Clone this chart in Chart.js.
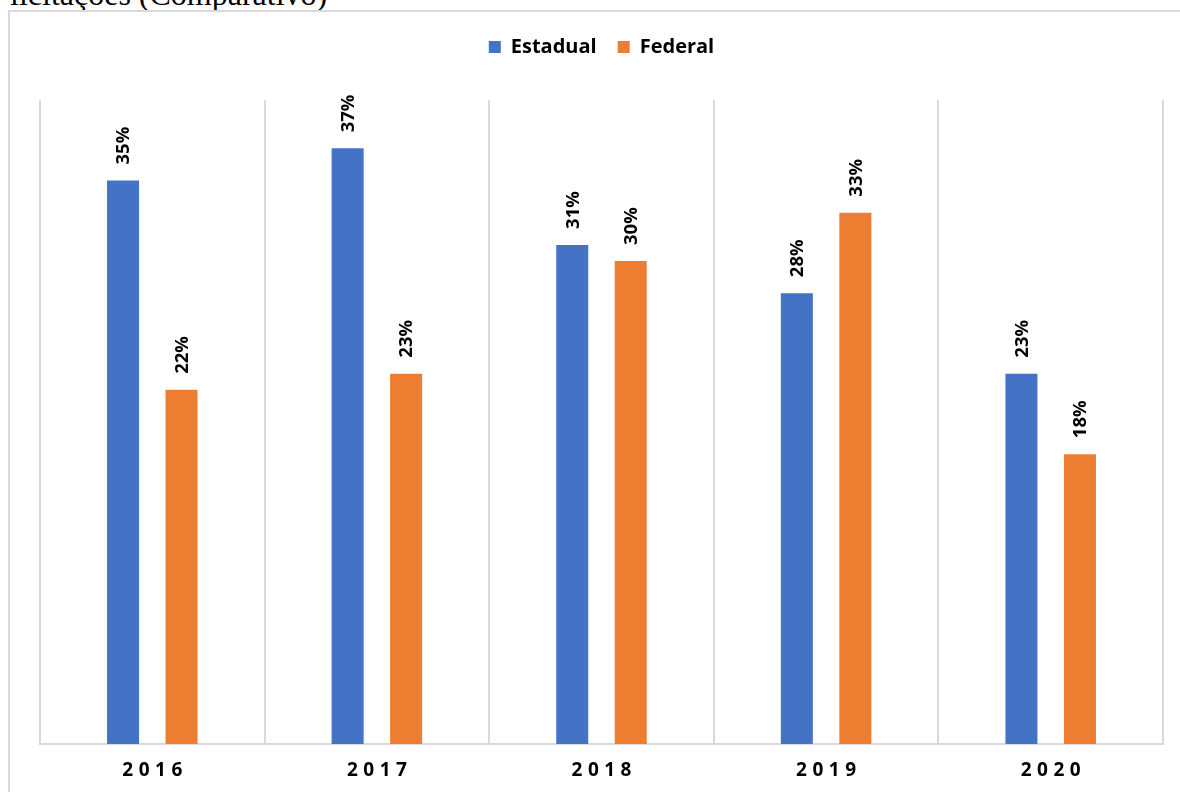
<!DOCTYPE html>
<html>
<head>
<meta charset="utf-8">
<script src="https://cdn.jsdelivr.net/npm/chart.js@4"></script>
<style>
  html, body { margin: 0; padding: 0; background: #fff; overflow: hidden; }
  body { width: 1180px; height: 792px; position: relative; }
  .caption {
    position: absolute; left: 10px; top: -22px;
    font: 32px/32px "Liberation Serif", "Times New Roman", serif;
    color: #000; white-space: nowrap;
  }
  .frame {
    position: absolute; left: 8px; top: 10px; width: 1200px; height: 820px;
    border: 2px solid #d9d9d9; box-sizing: border-box;
  }
  #myChart { position: absolute; left: 0; top: 0; }
</style>
</head>
<body>
<div class="caption">licitações (Comparativo)</div>
<div class="frame"></div>
<canvas id="myChart" width="1180" height="792"></canvas>
<script>
const years = ["2016", "2017", "2018", "2019", "2020"];
const estadual = [35, 37, 31, 28, 23];
const federal = [22, 23, 30, 33, 18];
const yTicks = { min: 0, max: 40 };

const labelFont = '"Open Sans", "DejaVu Sans", sans-serif';

// rotated percentage labels above each bar
const barLabels = {
  id: "barLabels",
  afterDatasetsDraw(chart) {
    const ctx = chart.ctx;
    ctx.save();
    ctx.fillStyle = "#000";
    ctx.font = `bold 18.5px ${labelFont}`;
    ctx.textAlign = "left";
    ctx.textBaseline = "middle";
    chart.data.datasets.forEach((ds, di) => {
      chart.getDatasetMeta(di).data.forEach((bar, i) => {
        ctx.save();
        ctx.translate(bar.x + 1, bar.y - 16);
        ctx.rotate(-Math.PI / 2);
        ctx.fillText(Math.round(ds.data[i]) + "%", 0, 0);
        ctx.restore();
      });
    });
    ctx.restore();
  },
};

// year labels under the axis, spaced out
const yearLabels = {
  id: "yearLabels",
  afterDraw(chart) {
    const ctx = chart.ctx;
    const xScale = chart.scales.x;
    const spacing = 5.5;
    ctx.save();
    ctx.fillStyle = "#000";
    ctx.font = `bold 19px ${labelFont}`;
    ctx.letterSpacing = spacing + "px";
    ctx.textAlign = "center";
    ctx.textBaseline = "middle";
    years.forEach((year, i) => {
      ctx.fillText(year, xScale.getPixelForValue(i) + spacing / 2, 771);
    });
    ctx.restore();
  },
};

const ctx = document.getElementById("myChart").getContext("2d");
new Chart(ctx, {
  type: "bar",
  data: {
    labels: years,
    datasets: [
      {
        label: "Estadual",
        data: estadual,
        backgroundColor: "#4472C4",
        categoryPercentage: 0.521,
        barPercentage: 0.547,
      },
      {
        label: "Federal",
        data: federal,
        backgroundColor: "#ED7D31",
        categoryPercentage: 0.521,
        barPercentage: 0.547,
      },
    ],
  },
  options: {
    responsive: false,
    animation: false,
    devicePixelRatio: 1,
    layout: {
      padding: { left: 40, right: 17, top: 16, bottom: 0 },
    },
    plugins: {
      legend: {
        position: "top",
        labels: {
          boxWidth: 12,
          boxHeight: 12,
          padding: 21,
          color: "#000",
          font: { family: labelFont, size: 20, weight: "bold" },
        },
      },
      tooltip: { enabled: false },
    },
    scales: {
      x: {
        position: "bottom",
        grid: {
          color: "#d9d9d9",
          lineWidth: 2,
          drawTicks: false,
          offset: true,
        },
        border: { color: "#d9d9d9", width: 2 },
        ticks: { display: false },
        afterFit: (scale) => {
          scale.height = 48;
        },
      },
      // empty band between the legend and the plot
      xTop: {
        axis: "x",
        type: "category",
        position: "top",
        grid: { display: false },
        border: { display: false },
        ticks: { display: false },
        afterFit: (scale) => {
          scale.height = 33;
        },
      },
      y: {
        display: false,
        min: yTicks.min,
        max: yTicks.max,
      },
    },
  },
  plugins: [barLabels, yearLabels],
});
</script>
</body>
</html>
